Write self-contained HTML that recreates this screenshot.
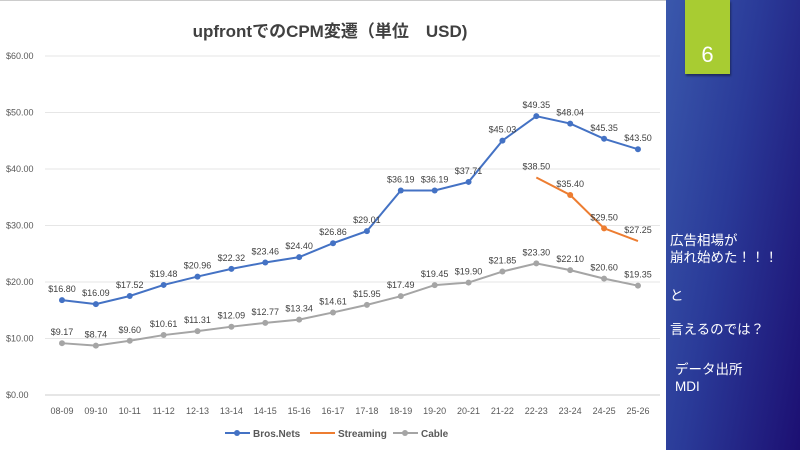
<!DOCTYPE html>
<html><head><meta charset="utf-8"><style>
body{margin:0;width:800px;height:450px;overflow:hidden;font-family:"Liberation Sans","Noto Sans CJK JP",sans-serif}
.wrap{position:relative;width:800px;height:450px;background:#fff}
.panel{position:absolute;left:666px;top:0;width:134px;height:450px;background:linear-gradient(100deg,#3a58ac 0%,#2a3a98 45%,#1c0f72 100%)}
.g{position:absolute;left:685px;top:0;width:45px;height:74px;background:#a8cc32;color:#fff;font-size:22px;text-align:center;line-height:110px;box-shadow:1px 2px 2px rgba(0,0,0,.4)}
.t{position:absolute;color:#fff;font-size:13.5px;line-height:17px}
</style></head><body><div class="wrap">
<svg width="666" height="450" style="position:absolute;left:0;top:0" font-family="Liberation Sans, Noto Sans CJK JP, sans-serif">
<line x1="0" y1="0.5" x2="666" y2="0.5" stroke="#ccc"/>
<text x="330" y="37" text-anchor="middle" font-size="17" font-weight="bold" fill="#404040">upfrontでのCPM変遷（単位　USD)</text>
<g stroke="#e6e6e6" stroke-width="1">
<line x1="45" x2="660" y1="56" y2="56"/><line x1="45" x2="660" y1="112.5" y2="112.5"/><line x1="45" x2="660" y1="169" y2="169"/><line x1="45" x2="660" y1="225.5" y2="225.5"/><line x1="45" x2="660" y1="282" y2="282"/><line x1="45" x2="660" y1="338.5" y2="338.5"/><line x1="45" x2="660" y1="395" y2="395" stroke="#ccc"/>
</g>
<g font-size="9" fill="#595959">
<text x="6" y="59">$60.00</text><text x="6" y="115.5">$50.00</text><text x="6" y="172">$40.00</text><text x="6" y="228.5">$30.00</text><text x="6" y="285">$20.00</text><text x="6" y="341.5">$10.00</text><text x="6" y="398">$0.00</text>
</g>
<g id="c"></g>
<g font-size="10" fill="#595959" font-weight="bold">
<line x1="225" y1="433" x2="250" y2="433" stroke="#4472c4" stroke-width="2"/><circle cx="237" cy="433" r="3" fill="#4472c4"/><text x="253" y="437">Bros.Nets</text>
<line x1="310" y1="433" x2="335" y2="433" stroke="#ed7d31" stroke-width="2"/><text x="338" y="437">Streaming</text>
<line x1="393" y1="433" x2="418" y2="433" stroke="#a5a5a5" stroke-width="2"/><circle cx="405" cy="433" r="3" fill="#a5a5a5"/><text x="421" y="437">Cable</text>
</g>
</svg>
<div class="panel"></div>
<div class="g">6</div>
<div class="t" style="left:670px;top:232px">広告相場が<br>崩れ始めた！！！</div>
<div class="t" style="left:670px;top:287px">と</div>
<div class="t" style="left:670px;top:321px">言えるのでは？</div>
<div class="t" style="left:675px;top:361px">データ出所<br>MDI</div>
</div>
<script>
const cats=["08-09","09-10","10-11","11-12","12-13","13-14","14-15","15-16","16-17","17-18","18-19","19-20","20-21","21-22","22-23","23-24","24-25","25-26"];
const b=[16.80,16.09,17.52,19.48,20.96,22.32,23.46,24.40,26.86,29.01,36.19,36.19,37.71,45.03,49.35,48.04,45.35,43.50];
const c=[9.17,8.74,9.60,10.61,11.31,12.09,12.77,13.34,14.61,15.95,17.49,19.45,19.90,21.85,23.30,22.10,20.60,19.35];
const s={14:38.50,15:35.40,16:29.50,17:27.25};
const X=i=>62+i*33.88,Y=v=>395-v*5.65;
let h='';
cats.forEach((t,i)=>h+=`<text x="${X(i)}" y="414" font-size="9" fill="#595959" text-anchor="middle">${t}</text>`);
function ser(vals,idx,col,dot){let p=idx.map(i=>X(i)+','+Y(vals[i])).join(' ');h+=`<polyline points="${p}" fill="none" stroke="${col}" stroke-width="2"/>`;
idx.forEach(i=>{if(dot)h+=`<circle cx="${X(i)}" cy="${Y(vals[i])}" r="3" fill="${col}"/>`;h+=`<text x="${X(i)}" y="${Y(vals[i])-8}" font-size="9" fill="#404040" text-anchor="middle">$${vals[i].toFixed(2)}</text>`;});}
const all=[...Array(18).keys()];
ser(b,all,'#4472c4',1);ser(c,all,'#a5a5a5',1);
const sv=[];for(const k in s)sv[k]=s[k];ser(sv,[14,15,16,17],'#ed7d31',0);
[15,16].forEach(i=>h+=`<circle cx="${X(i)}" cy="${Y(sv[i])}" r="3" fill="#ed7d31"/>`);
document.getElementById('c').innerHTML=h;
</script>
</body></html>
